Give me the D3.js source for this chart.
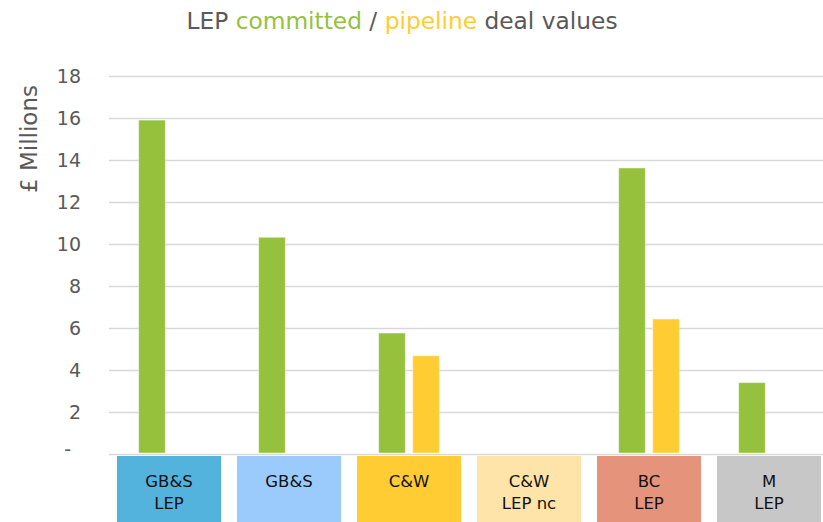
<!DOCTYPE html>
<html>
<head>
<meta charset="utf-8">
<script src="https://cdn.jsdelivr.net/npm/d3@7"></script>
<style>
    body { margin: 0; background: #fff; }
    svg { display: block; font-family: "DejaVu Sans", Verdana, sans-serif; }
</style>
</head>
<body>
<svg id="chart" width="823" height="522"></svg>
<script>
// Data
const categories = ['GB&S\nLEP', 'GB&S', 'C&W', 'C&W\nLEP nc', 'BC\nLEP', 'M\nLEP'];
const seriesNames = ['committed', 'pipeline'];
const committed = [15.9, 10.32, 5.76, 0, 13.62, 3.4];
const pipeline = [0, 0, 4.68, 0, 6.43, 0];
const yTicks = [0, 2, 4, 6, 8, 10, 12, 14, 16, 18];

// Styles
const seriesColors = { committed: '#95c13d', pipeline: '#ffcd33' };
const boxColors = ['#53b3dc', '#9bcbfd', '#ffcd33', '#fee4a8', '#e5937a', '#c7c7c7'];
const textGrey = '#595959';

const svg = d3.select('#chart');

// Scales
const x0 = d3.scaleBand()
    .domain(categories)
    .range([109, 829]);

const bw = x0.bandwidth();
const x1 = d3.scaleBand()
    .domain(seriesNames)
    .range([bw / 2 - 30.35, bw / 2 + 30.35])
    .paddingInner(0.215);

const y = d3.scaleLinear()
    .domain([0, 18])
    .range([454, 76]);

// Gridlines + tick labels
const yAxis = d3.axisLeft(y)
    .tickValues(yTicks)
    .tickSize(-(823 - 109))
    .tickPadding(28)
    .tickFormat(d => d === 0 ? '-' : d);

svg.append('g')
    .attr('transform', 'translate(109,0)')
    .call(yAxis)
    .call(g => g.select('.domain').remove())
    .call(g => g.selectAll('.tick line')
        .attr('stroke', '#d9d9d9')
        .attr('stroke-width', 1.6))
    .call(g => g.selectAll('.tick text')
        .attr('fill', textGrey)
        .attr('font-size', 19)
        .attr('font-family', '"DejaVu Sans", Verdana, sans-serif'))
    .call(g => g.selectAll('.tick')
        .filter(d => d === 0)
        .select('text')
        .attr('dx', -10)
        .attr('dy', '0.1em'));

// Bars
const rows = categories.map((c, i) => ({
    category: c,
    values: [
        { key: 'committed', value: committed[i] },
        { key: 'pipeline', value: pipeline[i] },
    ],
}));

const groups = svg.append('g')
    .selectAll('g')
    .data(rows)
    .join('g')
    .attr('transform', d => `translate(${x0(d.category)},0)`);

groups.selectAll('rect')
    .data(d => d.values.filter(v => v.value > 0))
    .join('rect')
    .attr('x', d => x1(d.key))
    .attr('y', d => y(d.value))
    .attr('width', x1.bandwidth())
    .attr('height', d => y(0) - y(d.value) - 1)
    .attr('fill', d => seriesColors[d.key])
    .attr('stroke', '#ffffff')
    .attr('stroke-opacity', 0.45)
    .attr('stroke-width', 1);

// Category label boxes
const labels = svg.append('g')
    .selectAll('g')
    .data(categories)
    .join('g')
    .attr('transform', d => `translate(${x0(d) + bw / 2},0)`);

labels.append('rect')
    .attr('x', -52)
    .attr('y', 456)
    .attr('width', 104)
    .attr('height', 66)
    .attr('fill', (d, i) => boxColors[i]);

labels.append('text')
    .attr('text-anchor', 'middle')
    .attr('font-size', 16.5)
    .attr('fill', '#111')
    .selectAll('tspan')
    .data(d => d.split('\n'))
    .join('tspan')
    .attr('x', 0)
    .attr('y', (d, i) => 487 + i * 21.5)
    .text(d => d);

// Y axis title
svg.append('text')
    .attr('transform', 'translate(37,139) rotate(-90)')
    .attr('text-anchor', 'middle')
    .attr('font-size', 23)
    .attr('fill', textGrey)
    .text('£ Millions');

// Chart title
const title = svg.append('text')
    .attr('x', 402)
    .attr('y', 29)
    .attr('text-anchor', 'middle')
    .attr('font-size', 23.3)
    .attr('fill', textGrey);

title.append('tspan').text('LEP ');
title.append('tspan').attr('fill', seriesColors.committed).text('committed');
title.append('tspan').text(' / ');
title.append('tspan').attr('fill', seriesColors.pipeline).text('pipeline');
title.append('tspan').text(' deal values');
</script>
</body>
</html>
